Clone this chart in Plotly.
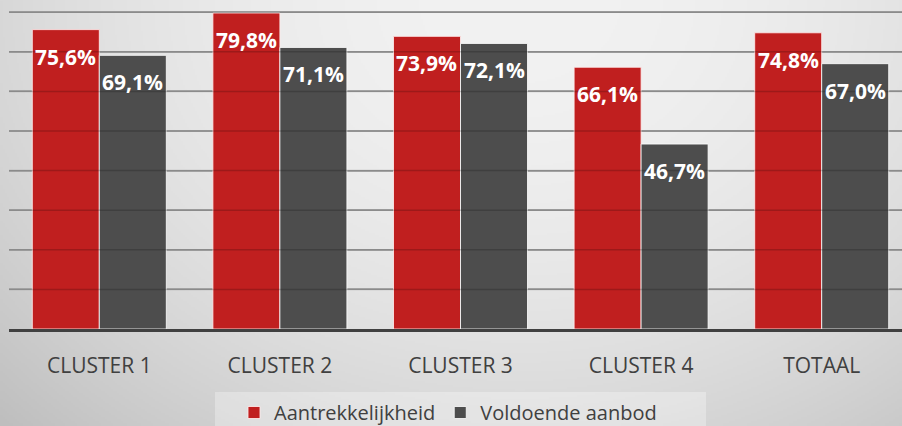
import base64
import struct
import zlib

import numpy as np
import plotly.graph_objects as go

# ---- data ----
categories = ["CLUSTER 1", "CLUSTER 2", "CLUSTER 3", "CLUSTER 4", "TOTAAL"]
aantrekkelijkheid = [75.6, 79.8, 73.9, 66.1, 74.8]
voldoende_aanbod = [69.1, 71.1, 72.1, 46.7, 67.0]
series_names = ["Aantrekkelijkheid", "Voldoende aanbod"]
grid_values = [10, 20, 30, 40, 50, 60, 70, 80]

W, H = 902, 426
ML, MR, MT, MB = 9, 0, 0, 97

RED = "#C01F1F"
GRAY = "#4D4D4D"
TXT = "#404040"


def fmt(v):
    return f"{v:.1f}%".replace(".", ",")


# ---- background gradient image (decoration only) ----
def gradient_png(w, h):
    xs = np.linspace(0, W, w)
    ys = np.linspace(0, H, h)
    X, Y = np.meshgrid(xs, ys)
    v = 242 - 26 * ((X - 520) / 520) ** 2 - 26 * (Y / 426) ** 2
    v = np.clip(v, 0, 255).astype(np.uint8)
    raw = b"".join(b"\x00" + row.tobytes() for row in v)

    def chunk(tag, data):
        c = struct.pack(">I", len(data)) + tag + data
        return c + struct.pack(">I", zlib.crc32(tag + data) & 0xFFFFFFFF)

    png = b"\x89PNG\r\n\x1a\n"
    png += chunk(b"IHDR", struct.pack(">IIBBBBB", w, h, 8, 0, 0, 0, 0))
    png += chunk(b"IDAT", zlib.compress(raw, 9))
    png += chunk(b"IEND", b"")
    return "data:image/png;base64," + base64.b64encode(png).decode()


bg = gradient_png(451, 213)

fig = go.Figure()
fig.add_trace(go.Bar(
    x=categories, y=aantrekkelijkheid, name=series_names[0],
    marker=dict(color=RED, line=dict(color="rgba(255,235,235,0.85)", width=1)),
    hoverinfo="skip",
))
fig.add_trace(go.Bar(
    x=categories, y=voldoende_aanbod, name=series_names[1],
    marker=dict(color=GRAY, line=dict(color="rgba(255,255,255,0.8)", width=1)),
    hoverinfo="skip",
))

plot_w = W - ML - MR
plot_h = H - MT - MB
cat_px = 180.6
x_range = [-0.5, -0.5 + plot_w / cat_px]
bargap = 0.258
bar_w = cat_px * (1 - bargap) / 2
shift = bar_w / 2
y_top = plot_h / 39.6 * 10


def px_x(p):
    return (p - ML) / plot_w


def px_y(p):
    return (plot_h - (p - MT)) / plot_h


annotations = []
for i, c in enumerate(categories):
    for vals, dx in ((aantrekkelijkheid, -shift), (voldoende_aanbod, shift)):
        annotations.append(dict(
            x=c, y=vals[i], xref="x", yref="y", text=fmt(vals[i]),
            showarrow=False, xshift=dx, yshift=-27, yanchor="middle",
            font=dict(family="Open Sans", size=21, color="white", weight="bold"),
        ))

shapes = []
for g in grid_values:
    shapes.append(dict(
        type="line", xref="paper", yref="y", x0=0, x1=1, y0=g, y1=g,
        line=dict(color="rgba(0,0,0,0.18)", width=1.5), layer="above",
    ))
# legend panel
shapes.append(dict(
    type="rect", xref="paper", yref="paper",
    x0=px_x(215), x1=px_x(706), y0=px_y(392), y1=px_y(440),
    fillcolor="rgba(255,255,255,0.3)", line=dict(width=0), layer="below",
))

fig.update_layout(
    width=W, height=H,
    margin=dict(l=ML, r=MR, t=MT, b=MB, pad=0, autoexpand=False),
    paper_bgcolor="#dcdcdc",
    plot_bgcolor="rgba(0,0,0,0)",
    barmode="group", bargap=bargap, bargroupgap=0,
    font=dict(family="Open Sans", color=TXT),
    showlegend=True,
    legend=dict(
        orientation="h", x=px_x(234), xanchor="left",
        y=px_y(393), yanchor="top",
        bgcolor="rgba(0,0,0,0)", borderwidth=0,
        font=dict(size=20, color=TXT),
        itemclick=False, itemdoubleclick=False,
    ),
    annotations=annotations,
    shapes=shapes,
    images=[dict(
        source=bg, xref="paper", yref="paper",
        x=-ML / plot_w, y=1, sizex=W / plot_w, sizey=H / plot_h,
        xanchor="left", yanchor="top", sizing="stretch", layer="below",
    )],
)
fig.update_xaxes(
    range=x_range, showgrid=False, zeroline=False,
    showline=True, linecolor="#404040", linewidth=3,
    ticks="outside", ticklen=16, tickcolor="rgba(0,0,0,0)",
    tickfont=dict(family="Open Sans", size=21, color=TXT),
)
fig.update_yaxes(
    range=[0, y_top], showgrid=True, gridcolor="#aaaaaa", gridwidth=1.5,
    tickvals=grid_values, showticklabels=False, zeroline=False,
)

fig.write_html(
    "out.html",
    config={"displayModeBar": False},
    post_script="document.body.style.margin='0';document.body.style.overflow='hidden';",
)
